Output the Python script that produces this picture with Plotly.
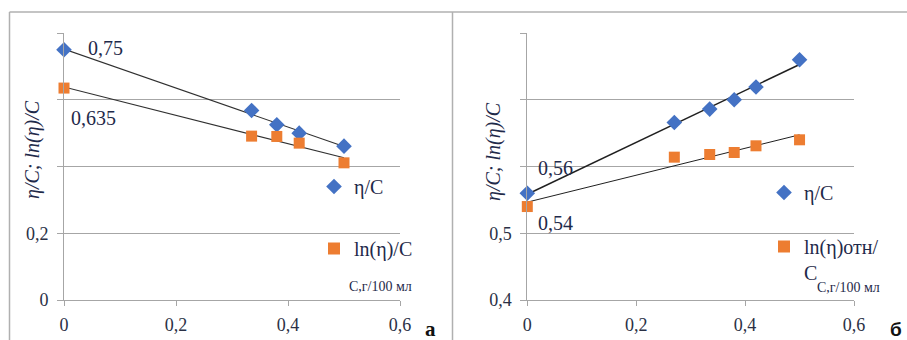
import numpy as np
import plotly.graph_objects as go

# ---- panel а: concentration vs. reduced viscosities ----
conc_a = [0.0, 0.335, 0.38, 0.42, 0.5]
eta_c_a = [0.75, 0.568, 0.525, 0.50, 0.461]
ln_eta_c_a = [0.635, 0.491, 0.49, 0.47, 0.411]

# ---- panel б ----
conc_b = [0.0, 0.27, 0.335, 0.38, 0.42, 0.5]
eta_c_b = [0.56, 0.666, 0.686, 0.70, 0.719, 0.76]
ln_eta_c_b = [0.54, 0.614, 0.618, 0.621, 0.631, 0.64]

x_ticks = [0, 0.2, 0.4, 0.6]
x_ticktext = ["0", "0,2", "0,4", "0,6"]
ya_ticks = [0, 0.2, 0.4, 0.6, 0.8]
ya_ticktext = ["0", "0,2", "", "", ""]
yb_ticks = [0.4, 0.5, 0.6, 0.7, 0.8]
yb_ticktext = ["0,4", "0,5", "", "", ""]

BLUE = "#4472C4"
ORANGE = "#ED7D31"
GRID = "#a6a6a6"
TEXT = "#1f2a4a"
TICK_TEXT = "#2a3045"
SERIF = "Liberation Serif"

W, H = 907, 340


def px_x(p):
    return p / W


def px_y(p):
    return 1 - p / H


def trend(x, y):
    k, b = np.polyfit(x, y, 1)
    xs = np.array([0.0, max(x)])
    return xs, k * xs + b


fig = go.Figure()

# trend lines first so the markers sit on top of them
for ys in (eta_c_a, ln_eta_c_a):
    tx, ty = trend(conc_a, ys)
    fig.add_trace(go.Scatter(x=tx, y=ty, mode="lines", showlegend=False,
                             line=dict(color="#303030", width=1.1),
                             xaxis="x", yaxis="y", hoverinfo="skip"))
for ys, w in ((eta_c_b, 1.5), (ln_eta_c_b, 1.0)):
    tx, ty = trend(conc_b, ys)
    fig.add_trace(go.Scatter(x=tx, y=ty, mode="lines", showlegend=False,
                             line=dict(color="#202020", width=w),
                             xaxis="x2", yaxis="y2", hoverinfo="skip"))

# panel а
fig.add_trace(go.Scatter(x=conc_a, y=eta_c_a, mode="markers", name="η/C",
                         marker=dict(symbol="diamond", size=12, color=BLUE),
                         cliponaxis=False,
                         xaxis="x", yaxis="y", legend="legend", legendgroup="a1"))
fig.add_trace(go.Scatter(x=conc_a, y=ln_eta_c_a, mode="markers", name="ln(η)/C",
                         marker=dict(symbol="square", size=11, color=ORANGE),
                         cliponaxis=False,
                         xaxis="x", yaxis="y", legend="legend", legendgroup="a2"))

# panel б
fig.add_trace(go.Scatter(x=conc_b, y=eta_c_b, mode="markers", name="η/C",
                         marker=dict(symbol="diamond", size=12, color=BLUE),
                         cliponaxis=False,
                         xaxis="x2", yaxis="y2", legend="legend2", legendgroup="b1"))
fig.add_trace(go.Scatter(x=conc_b, y=ln_eta_c_b, mode="markers", name="ln(η)отн/<br>C",
                         marker=dict(symbol="square", size=11, color=ORANGE),
                         cliponaxis=False,
                         xaxis="x2", yaxis="y2", legend="legend2", legendgroup="b2"))

tickfont = dict(family=SERIF, size=18, color=TICK_TEXT)
xcommon = dict(range=[0, 0.6], tickvals=x_ticks, ticktext=x_ticktext,
               showgrid=False, zeroline=False, showline=True, linecolor=GRID,
               linewidth=1, ticks="outside", ticklen=5, tickcolor=GRID,
               tickfont=tickfont, ticklabelstandoff=3, automargin=False)
ycommon = dict(showgrid=True, gridcolor=GRID, gridwidth=1, zeroline=False,
               showline=True, linecolor=GRID, linewidth=1, ticks="outside",
               ticklen=6, tickcolor=GRID, tickfont=tickfont,
               ticklabelstandoff=5, automargin=False)

y_dom = [px_y(300), px_y(33)]
legend_font = dict(family=SERIF, size=20, color=TEXT)

fig.update_layout(
    template="none",
    width=W, height=H,
    margin=dict(l=0, r=0, t=0, b=0, pad=0),
    paper_bgcolor="white", plot_bgcolor="white",
    font=dict(family=SERIF, color=TEXT),
    xaxis=dict(domain=[px_x(64), px_x(400)], anchor="y", **xcommon),
    yaxis=dict(domain=y_dom, anchor="x", range=[0, 0.8],
               tickvals=ya_ticks, ticktext=ya_ticktext, **ycommon),
    xaxis2=dict(domain=[px_x(527.3), px_x(854)], anchor="y2", **xcommon),
    yaxis2=dict(domain=y_dom, anchor="x2", range=[0.4, 0.8],
                tickvals=yb_ticks, ticktext=yb_ticktext, **ycommon),
    legend=dict(x=px_x(314), y=px_y(167), xanchor="left", yanchor="top",
                bgcolor="rgba(0,0,0,0)", tracegroupgap=33, itemsizing="constant",
                font=legend_font),
    legend2=dict(x=px_x(764), y=px_y(173), xanchor="left", yanchor="top",
                 bgcolor="rgba(0,0,0,0)", tracegroupgap=25, valign="top",
                 itemsizing="constant", font=legend_font),
)

ann_font = dict(family=SERIF, size=20, color=TEXT)
unit_font = dict(family=SERIF, size=14, color=TEXT)


def note(x, y, text, xref="paper", yref="paper", xanchor="center", font=ann_font, angle=0):
    return dict(x=x, y=y, xref=xref, yref=yref, text=text, showarrow=False,
                xanchor=xanchor, yanchor="middle", textangle=angle, font=font)


annotations = [
    note(0.039, 0.755, "0,75", "x", "y", "left"),
    note(0.009, 0.546, "0,635", "x", "y", "left"),
    note(0.016, 0.598, "0,56", "x2", "y2", "left"),
    note(0.016, 0.516, "0,54", "x2", "y2", "left"),
    # axis titles
    note(px_x(32), px_y(150), "<i>η/C; ln(η)/C</i>", angle=-90),
    note(px_x(493), px_y(151), "<i>η/C; ln(η)/C</i>", angle=-90),
    # units of the concentration axis
    note(px_x(380), px_y(286), "С,г/100 мл", font=unit_font),
    note(px_x(848), px_y(287), "С,г/100 мл", font=unit_font),
    # panel letters
    note(px_x(430), px_y(329), "<b>а</b>", font=dict(family=SERIF, size=21, color="#111111")),
    note(px_x(896), px_y(329), "<b>б</b>",
         font=dict(family="Liberation Sans", size=19, color="#111111")),
]
fig.update_layout(annotations=annotations)

# panel frames
frame = dict(color="#b0b0b0", width=1.5)
fig.update_layout(shapes=[
    dict(type="line", xref="paper", yref="paper", x0=px_x(9.5), x1=1,
         y0=px_y(12), y1=px_y(12), line=frame),
    dict(type="line", xref="paper", yref="paper", x0=px_x(9.5), x1=px_x(9.5),
         y0=px_y(12), y1=0, line=frame),
    dict(type="line", xref="paper", yref="paper", x0=px_x(452.5), x1=px_x(452.5),
         y0=px_y(12), y1=0, line=frame),
])

fig.write_html("out.html")
